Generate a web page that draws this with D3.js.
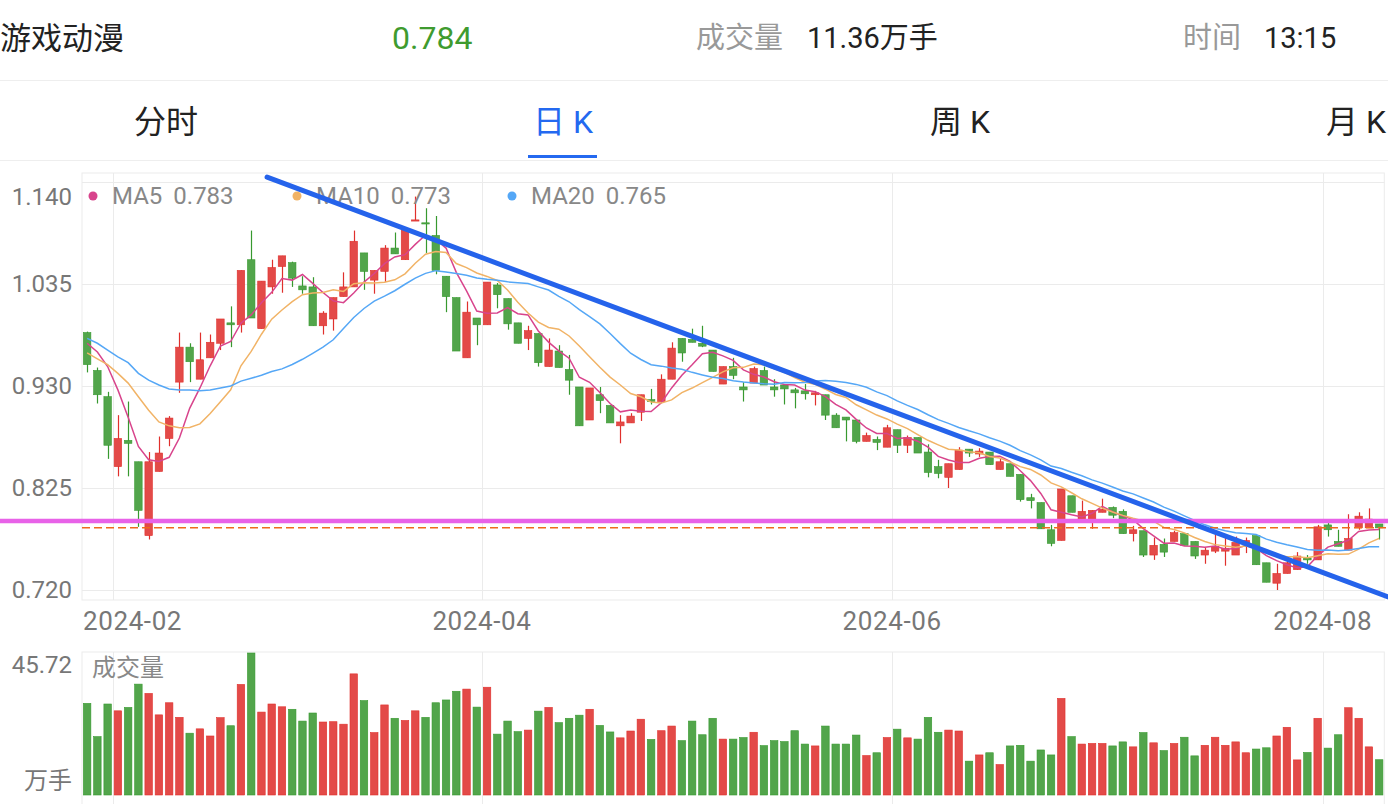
<!DOCTYPE html>
<html><head><meta charset="utf-8">
<script src="https://cdn.jsdelivr.net/npm/d3@7"></script>
<style>
html,body{margin:0;padding:0;background:#fff;}
svg{display:block;font-family:Roboto,"Noto Sans CJK SC",sans-serif;}
</style></head><body>
<svg id="c" width="1388" height="804"></svg>
<script>
// ---------- data ----------
const tradingDays = {
  "2024-01":[29,30,31],
  "2024-02":[1,2,5,6,7,8,19,20,21,22,23,26,27,28,29],
  "2024-03":[1,4,5,6,7,8,11,12,13,14,15,18,19,20,21,22,25,26,27,28,29],
  "2024-04":[1,2,3,8,9,10,11,12,15,16,17,18,19,22,23,24,25,26,29,30],
  "2024-05":[6,7,8,9,10,13,14,15,16,17,20,21,22,23,24,27,28,29,30,31],
  "2024-06":[3,4,5,6,7,11,12,13,14,17,18,19,20,21,24,25,26,27,28],
  "2024-07":[1,2,3,4,5,8,9,10,11,12,15,16,17,18,19,22,23,24,25,26,29,30,31],
  "2024-08":[1,2,5,6,7,8]
};
const opens  = [.985,.946,.919,.847,.874,.852,.776,.842,.876,.934,.970,.937,.959,.974,.995,.993,1.060,.989,1.032,1.053,
  1.057,1.033,1.032,.992,.999,1.022,1.032,1.067,1.039,1.048,1.072,1.060,1.100,1.098,1.085,1.043,1.021,.959,1.000,.993,
  1.034,1.020,.995,.979,.984,.950,.966,.947,.929,.895,.921,.910,.889,.892,.903,.916,.914,.937,.979,.978,
  .974,.967,.932,.950,.929,.933,.946,.929,.931,.926,.925,.921,.921,.900,.898,.895,.873,.875,.867,.885,
  .869,.877,.862,.847,.836,.844,.865,.860,.862,.844,.850,.839,.815,.810,.782,.771,.817,.793,.793,.800,
  .805,.801,.778,.781,.756,.767,.770,.778,.770,.756,.760,.760,.756,.768,.776,.748,.727,.737,.741,.753,
  .751,.787,.770,.761,.784,.784,.788];
const highs  = [.986,.949,.924,.900,.914,.852,.862,.878,.899,.985,.974,.985,.983,.999,1.012,1.049,1.090,1.038,1.060,1.064,
  1.058,1.043,1.042,1.007,1.021,1.047,1.090,1.067,1.049,1.075,1.088,1.091,1.125,1.113,1.105,1.043,1.021,1.017,1.000,1.037,
  1.036,1.020,.995,.992,.984,.979,.972,.962,.929,.928,.929,.910,.900,.902,.921,.927,.942,.975,.979,.989,
  .992,.967,.950,.959,.934,.950,.950,.937,.932,.928,.932,.925,.921,.902,.898,.895,.882,.878,.890,.885,
  .879,.877,.870,.854,.850,.867,.865,.866,.862,.855,.850,.839,.819,.810,.787,.824,.817,.812,.802,.814,
  .806,.803,.786,.781,.774,.773,.781,.778,.770,.764,.778,.776,.775,.774,.776,.748,.747,.755,.759,.756,
  .787,.789,.782,.798,.800,.804,.788];
const lows   = [.944,.912,.855,.837,.837,.785,.772,.842,.868,.923,.934,.937,.959,.967,.970,.985,1.000,.989,1.025,1.026,
  1.032,1.025,.992,.983,.987,1.022,1.032,1.029,1.025,1.037,1.066,1.060,1.100,1.067,1.045,1.006,.966,.959,.972,.993,
  1.010,.988,.974,.967,.950,.950,.949,.921,.889,.895,.902,.892,.871,.892,.894,.911,.914,.937,.955,.975,
  .970,.945,.932,.937,.914,.933,.931,.919,.911,.907,.916,.910,.895,.887,.873,.871,.873,.864,.867,.861,
  .861,.861,.836,.835,.825,.844,.857,.857,.849,.844,.837,.811,.804,.783,.765,.771,.800,.793,.783,.800,
  .794,.778,.770,.754,.751,.754,.770,.766,.752,.747,.758,.745,.756,.758,.746,.728,.720,.737,.741,.747,
  .751,.775,.765,.761,.782,.784,.772];
const closes = [.952,.921,.869,.876,.871,.802,.852,.861,.897,.970,.955,.957,.975,.999,.993,1.049,1.000,1.038,1.052,1.064,
  1.041,1.029,.992,1.005,1.021,1.032,1.079,1.048,1.049,1.072,1.066,1.091,1.101,1.097,1.049,1.022,.966,1.006,.993,1.037,
  1.024,.994,.974,.987,.954,.967,.949,.936,.889,.928,.915,.892,.893,.899,.921,.914,.937,.969,.964,.975,
  .971,.945,.950,.941,.926,.948,.931,.926,.927,.923,.922,.923,.900,.887,.895,.873,.879,.872,.887,.869,
  .877,.861,.841,.840,.850,.864,.861,.863,.849,.852,.837,.813,.812,.783,.768,.824,.800,.801,.802,.803,
  .797,.778,.782,.756,.766,.759,.779,.766,.755,.761,.765,.763,.769,.771,.746,.728,.737,.748,.755,.751,
  .785,.782,.765,.773,.796,.793,.784];
const volumes = [29.5,18.8,29.3,27.1,28.2,35.7,32.7,25.8,29.7,25.0,19.9,21.3,19.0,24.9,22.3,35.6,45.72,26.7,29.3,28.4,
  27.6,23.8,26.4,23.5,23.6,22.8,39.0,30.4,20.1,29.0,24.7,24.0,27.1,25.0,29.7,30.6,33.4,34.1,28.3,34.7,
  19.6,23.8,20.4,20.9,27.0,28.2,23.3,24.7,25.7,27.6,22.4,20.3,18.4,20.6,24.4,17.9,20.7,22.2,17.5,23.8,
  19.4,24.7,18.0,18.0,18.5,20.2,15.9,17.5,17.2,20.7,16.4,15.8,22.2,16.4,16.4,19.3,12.7,13.6,18.5,21.2,
  18.4,18.0,25.0,20.2,20.9,20.6,10.9,12.9,13.6,9.8,15.8,16.0,10.9,14.5,12.9,31.1,18.8,16.4,16.6,16.6,
  15.8,17.1,15.5,20.1,16.8,14.3,16.6,18.6,12.6,16.0,18.6,16.0,17.1,13.6,14.8,15.2,19.0,21.8,11.3,13.7,
  24.7,15.1,19.4,28.1,24.7,15.5,11.36];
// MA values shown before a full window of visible closes exists
const ma5Start  = [0.974,0.965,0.950,0.926];
const ma10Start = [0.964,0.958,0.952,0.943,0.933,0.919,0.905,0.893,0.889];
const ma20Start = [0.979,0.974,0.967,0.960,0.954,0.943,0.936,0.931,0.927,0.926,0.926,0.925,0.926,0.928,0.930,0.935,0.938,0.941,0.945];
const maNames = ["MA5","MA10","MA20"];
const maPeriods = [5,10,20];
const maLegendValues = ["0.783","0.773","0.765"];
const priceTicks = [0.720,0.825,0.930,1.035,1.140];
const monthTicks = ["2024-02","2024-04","2024-06","2024-08"];
const volumeMax = 45.72;
const lastPrice = 0.784;
const supportLevel = 0.791;
const trendLine = [{i:17.55,v:1.145},{i:126.88,v:0.7128}];
const header = {name:"游戏动漫", price:"0.784", volLabel:"成交量", vol:"11.36万手", timeLabel:"时间", time:"13:15"};
const tabs = ["分时","日 K","周 K","月 K"];

// ---------- build ----------
const dates = [];
Object.entries(tradingDays).forEach(([m,ds])=>ds.forEach(d=>dates.push(m+"-"+String(d).padStart(2,"0"))));
const data = dates.map((d,i)=>({date:d,o:opens[i],h:highs[i],l:lows[i],c:closes[i],v:volumes[i]}));

const RED="#e34a48", RED_D="#e0302c", GREEN="#52a54b", GREEN_D="#37992f";
const MA_COLORS=["#d8448c","#f1b366","#55a7f6"];

const svg=d3.select("#c");
const L=82, R=1384.3, T=173, B=600;
const x=d3.scaleBand().domain(dates).range([L,R]).paddingInner(0.27).paddingOuter(0.135);
const step=x.step(), bw=x.bandwidth();
const cx=d=>x(d)+bw/2;
const xi=i=>x(dates[0])+bw/2+i*step;
const y=d3.scaleLinear().domain([0.720,1.140]).range([590,182]);
const vy=d3.scaleLinear().domain([0,volumeMax]).range([795,653]);

// header
const hdr=svg.append("g");
hdr.append("text").attr("x",0).attr("y",38).attr("dominant-baseline","central").attr("font-size",31).attr("fill","#222").text(header.name);
hdr.append("text").attr("x",392).attr("y",38).attr("dominant-baseline","central").attr("font-size",32).attr("fill","#3f9b2f").text(header.price);
hdr.append("text").attr("x",696).attr("y",38).attr("dominant-baseline","central").attr("font-size",29).attr("fill","#999").text(header.volLabel);
hdr.append("text").attr("x",807).attr("y",38).attr("dominant-baseline","central").attr("font-size",29).attr("fill","#222").text(header.vol);
hdr.append("text").attr("x",1183).attr("y",38).attr("dominant-baseline","central").attr("font-size",29).attr("fill","#999").text(header.timeLabel);
hdr.append("text").attr("x",1264).attr("y",38).attr("dominant-baseline","central").attr("font-size",29).attr("fill","#222").text(header.time);
svg.append("line").attr("x1",0).attr("x2",1388).attr("y1",80.5).attr("y2",80.5).attr("stroke","#eeeeee");
const tabX=[166,563,960,1356];
tabs.forEach((t,k)=>{
  svg.append("text").attr("x",tabX[k]).attr("y",122).attr("text-anchor","middle").attr("dominant-baseline","central")
    .attr("font-size",32).attr("fill",k===1?"#2469f0":"#222").text(t);
});
svg.append("rect").attr("x",528).attr("y",155).attr("width",69).attr("height",3).attr("fill","#2469f0");
svg.append("line").attr("x1",0).attr("x2",1388).attr("y1",160.5).attr("y2",160.5).attr("stroke","#eeeeee");

// panels
const grid="#ebebeb";
svg.append("rect").attr("x",L).attr("y",T).attr("width",R-L).attr("height",B-T).attr("fill","none").attr("stroke",grid);
svg.append("rect").attr("x",L).attr("y",652).attr("width",R-L).attr("height",160).attr("fill","none").attr("stroke",grid);
priceTicks.forEach(t=>{
  svg.append("line").attr("x1",L).attr("x2",R).attr("y1",Math.round(y(t))+0.5).attr("y2",Math.round(y(t))+0.5).attr("stroke",grid);
});
const monthStart=monthTicks.map(m=>dates.find(d=>d.startsWith(m)));
monthStart.forEach(d=>{
  const gx=Math.round(x(d)-step*0.135)+0.5;
  svg.append("line").attr("x1",gx).attr("x2",gx).attr("y1",T).attr("y2",B).attr("stroke",grid);
  svg.append("line").attr("x1",gx).attr("x2",gx).attr("y1",652).attr("y2",804).attr("stroke",grid);
});

// y labels
priceTicks.forEach(t=>{
  const ly=Math.max(y(t),T+24);
  svg.append("text").attr("x",72).attr("y",ly).attr("text-anchor","end").attr("dominant-baseline","central")
    .attr("font-size",24).attr("fill","#777").text(t.toFixed(3));
});
// x labels
monthStart.forEach((d,k)=>{
  const gx=x(d)-step*0.135;
  const tx=svg.append("text").attr("x",gx).attr("y",621).attr("text-anchor","middle").attr("dominant-baseline","central")
    .attr("font-size",26).attr("letter-spacing","0.6px").attr("fill","#777").text(monthTicks[k]);
  const w=tx.node().getComputedTextLength();
  if(gx-w/2<L) tx.attr("text-anchor","start").attr("x",L+1);
});

// candles
const cg=svg.append("g");
data.forEach(d=>{
  const up=d.c>=d.o;
  const col=up?RED:GREEN, dk=up?RED_D:GREEN_D;
  const xc=Math.round(cx(d.date))+0.5;
  cg.append("line").attr("x1",xc).attr("x2",xc).attr("y1",y(d.h)).attr("y2",y(d.l)).attr("stroke",dk).attr("stroke-width",1.2);
  const top=y(Math.max(d.o,d.c)), bot=y(Math.min(d.o,d.c));
  cg.append("rect").attr("x",cx(d.date)-bw/2).attr("y",top).attr("width",bw).attr("height",Math.max(bot-top,1.2))
    .attr("fill",col).attr("stroke",dk).attr("stroke-width",0.6);
});

// moving averages
function movingAvg(period,start){
  return closes.map((c,i)=> i<period-1 ? start[i] : d3.mean(closes.slice(i-period+1,i+1)));
}
const maStarts=[ma5Start,ma10Start,ma20Start];
maPeriods.forEach((p,k)=>{
  const vals=movingAvg(p,maStarts[k]);
  svg.append("path").datum(vals).attr("fill","none").attr("stroke",MA_COLORS[k]).attr("stroke-width",1.5)
    .attr("d",d3.line().x((v,i)=>xi(i)).y(v=>y(v)));
});

// volume bars
const vg=svg.append("g");
data.forEach(d=>{
  const up=d.c>=d.o;
  vg.append("rect").attr("x",cx(d.date)-bw/2).attr("y",vy(d.v)).attr("width",bw).attr("height",vy(0)-vy(d.v))
    .attr("fill",up?RED:GREEN).attr("stroke",up?RED_D:GREEN_D).attr("stroke-width",0.6);
});
svg.append("text").attr("x",72).attr("y",665).attr("text-anchor","end").attr("dominant-baseline","central").attr("font-size",24).attr("fill","#777").text(volumeMax.toFixed(2));
svg.append("text").attr("x",72).attr("y",781).attr("text-anchor","end").attr("dominant-baseline","central").attr("font-size",24).attr("fill","#777").text("万手");
svg.append("text").attr("x",92).attr("y",668).attr("dominant-baseline","central").attr("font-size",24).attr("fill","#888").text("成交量");

// legend
const legX=[93,297,512];
maNames.forEach((n,k)=>{
  svg.append("circle").attr("cx",legX[k]).attr("cy",196).attr("r",4.5).attr("fill",MA_COLORS[k]);
  svg.append("text").attr("x",legX[k]+19).attr("y",196).attr("dominant-baseline","central").attr("font-size",24).attr("fill","#888")
    .text(n).append("tspan").attr("dx",11).text(maLegendValues[k]);
});

// annotation lines
svg.append("line").attr("x1",L).attr("x2",1388).attr("y1",y(lastPrice)).attr("y2",y(lastPrice))
  .attr("stroke","#ee6a1c").attr("stroke-width",1.5).attr("stroke-dasharray","8,4");
svg.append("line").attr("x1",0).attr("x2",1388).attr("y1",y(supportLevel)).attr("y2",y(supportLevel))
  .attr("stroke","#e862e8").attr("stroke-width",4.5);
svg.append("line").attr("x1",xi(trendLine[0].i)).attr("y1",y(trendLine[0].v)).attr("x2",xi(trendLine[1].i)).attr("y2",y(trendLine[1].v))
  .attr("stroke","#2563eb").attr("stroke-width",5).attr("stroke-linecap","round");
</script></body></html>
